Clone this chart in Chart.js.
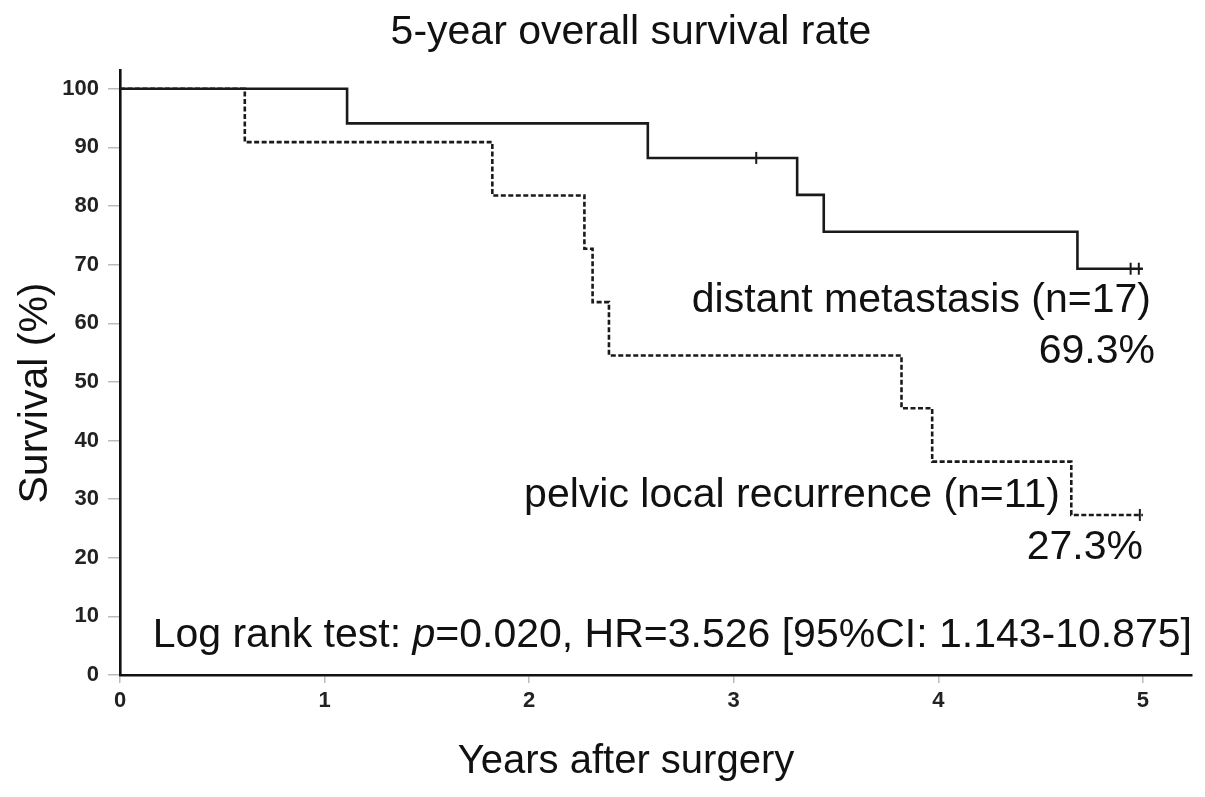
<!DOCTYPE html>
<html>
<head>
<meta charset="utf-8">
<script src="https://cdn.jsdelivr.net/npm/chart.js@4"></script>
<style>
html,body{margin:0;padding:0;background:#fff;}
#wrap{width:1205px;height:797px;position:relative;}
</style>
</head>
<body>
<div id="wrap"><canvas id="c" width="1205" height="797"></canvas></div>
<script>
// ---- data ----
const xTicks = [0, 1, 2, 3, 4, 5];
const yTicks = [0, 10, 20, 30, 40, 50, 60, 70, 80, 90, 100];
const distantTimes = [0, 1.11, 2.58, 3.31, 3.44, 4.68, 5.0];
const distantSurv  = [100, 94.1, 88.2, 81.9, 75.6, 69.3, 69.3];
const distantCensorTimes = [3.11, 4.94, 4.98];
const distantCensorSurv  = [88.2, 69.3, 69.3];
const pelvicTimes = [0, 0.61, 1.82, 2.27, 2.31, 2.39, 3.82, 3.97, 4.65, 5.0];
const pelvicSurv  = [100, 90.9, 81.8, 72.7, 63.6, 54.5, 45.5, 36.4, 27.3, 27.3];
const pelvicCensorTimes = [4.985];
const pelvicCensorSurv  = [27.3];

const toPts = (xs, ys) => xs.map((x, i) => ({x: x, y: ys[i]}));

const FONT = "'Liberation Sans', Arial, sans-serif";
const TICKFONT = "'Liberation Sans', Arial, sans-serif";

const textPlugin = {
  id: 'texts',
  afterDraw(chart) {
    const ctx = chart.ctx;
    ctx.save();
    ctx.fillStyle = '#111';
    ctx.textBaseline = 'middle';
    ctx.font = '41px ' + FONT;
    ctx.textAlign = 'center';
    ctx.fillText('5-year overall survival rate', 631, 33);
    ctx.font = '40px ' + FONT;
    ctx.fillText('Years after surgery', 626, 762);
    ctx.save();
    ctx.translate(36, 393);
    ctx.rotate(-Math.PI / 2);
    ctx.font = '41px ' + FONT;
    ctx.fillText('Survival (%)', 0, 0);
    ctx.restore();

    ctx.font = '41px ' + FONT;
    ctx.textAlign = 'right';
    ctx.fillText('distant metastasis (n=17)', 1151, 301);
    ctx.fillText('69.3%', 1155, 352);
    ctx.fillText('pelvic local recurrence (n=11)', 1060, 496);
    ctx.fillText('27.3%', 1143, 548);

    // log rank line with italic p
    const parts = [
      {t: 'Log rank test: ', f: '41px ' + FONT},
      {t: 'p', f: 'italic 41px ' + FONT},
      {t: '=0.020, HR=3.526 [95%CI: 1.143-10.875]', f: '41px ' + FONT}
    ];
    let total = 0;
    parts.forEach(p => { ctx.font = p.f; total += ctx.measureText(p.t).width; });
    let x = 1192 - total;
    ctx.textAlign = 'left';
    parts.forEach(p => { ctx.font = p.f; ctx.fillText(p.t, x, 636); x += ctx.measureText(p.t).width; });
    ctx.restore();
  }
};

new Chart(document.getElementById('c'), {
  type: 'scatter',
  data: {
    datasets: [
      {
        label: 'distant metastasis (n=17)',
        data: toPts(distantTimes, distantSurv),
        showLine: true, stepped: 'before',
        borderColor: '#1a1a1a', borderWidth: 2.6,
        pointRadius: 0, fill: false
      },
      {
        label: 'pelvic local recurrence (n=11)',
        data: toPts(pelvicTimes, pelvicSurv),
        showLine: true, stepped: 'before',
        borderColor: '#1a1a1a', borderWidth: 2.6, borderDash: [5, 2.5],
        pointRadius: 0, fill: false
      },
      {
        label: 'censored distant',
        data: toPts(distantCensorTimes, distantCensorSurv),
        showLine: false, pointStyle: 'line', rotation: 90,
        pointRadius: 6, borderColor: '#1a1a1a', borderWidth: 2
      },
      {
        label: 'censored pelvic',
        data: toPts(pelvicCensorTimes, pelvicCensorSurv),
        showLine: false, pointStyle: 'line', rotation: 90,
        pointRadius: 6, borderColor: '#1a1a1a', borderWidth: 2
      }
    ]
  },
  options: {
    responsive: false,
    animation: false,
    devicePixelRatio: 1,
    layout: {padding: {left: 0, top: 70, right: 13, bottom: 0}},
    plugins: {legend: {display: false}, tooltip: {enabled: false}, title: {display: false}},
    scales: {
      x: {
        type: 'linear', min: 0, max: 5.24,
        afterBuildTicks: s => { s.ticks = xTicks.map(v => ({value: v})); },
        afterFit: s => { s.height = 122; },
        border: {color: '#111', width: 2.6},
        grid: {drawOnChartArea: false, drawTicks: true, tickLength: 8, color: '#bbb', lineWidth: 1.5},
        ticks: {color: '#222', padding: 5, font: {family: TICKFONT, size: 22, weight: 'bold'}, maxRotation: 0}
      },
      y: {
        type: 'linear', min: 0, max: 103.2,
        afterBuildTicks: s => { s.ticks = yTicks.map(v => ({value: v})); },
        afterFit: s => { s.width = 120; },
        border: {color: '#111', width: 2.6},
        grid: {drawOnChartArea: false, drawTicks: true, tickLength: 12, color: '#bbb', lineWidth: 1.5},
        ticks: {color: '#222', padding: 9, font: {family: TICKFONT, size: 22, weight: 'bold'}}
      }
    }
  },
  plugins: [textPlugin]
});
</script>
</body>
</html>
